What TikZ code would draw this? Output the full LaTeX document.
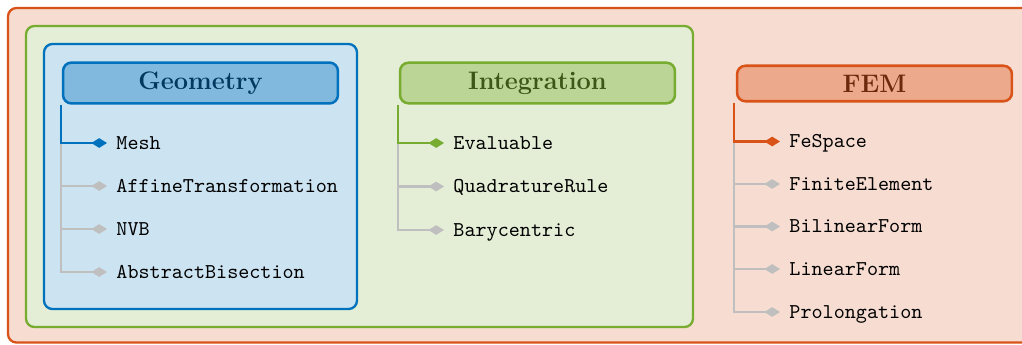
\documentclass[tikz,border=0pt]{standalone}
\usetikzlibrary{arrows.meta}
\definecolor{mblue}{RGB}{0,114,189}
\definecolor{mgreen}{RGB}{119,172,48}
\definecolor{morange}{RGB}{217,83,25}
\definecolor{lgray}{RGB}{191,191,191}
\tikzset{
  bigbox/.style={line width=1.1pt, rounded corners=4pt},
  titlebox/.style={draw, line width=1.2pt, rounded corners=4pt, minimum width=130.3pt,
    inner ysep=4.3pt, font=\fontsize{12}{14}\selectfont\bfseries},
  item/.style={anchor=west, inner xsep=4.3pt, inner ysep=0pt, text height=6.1pt,
    text depth=0pt, font=\fontsize{10}{12}\selectfont\ttfamily},
  link/.style={line width=1.1pt, -{Diamond[length=7.4pt,width=4.6pt]}},
  graylink/.style={link, lgray},
}
\begin{document}
\begin{tikzpicture}[x=0.474pt,y=-0.474pt]
\useasboundingbox (0,0) rectangle (1022,344);
% containers
\draw[bigbox, draw=morange, fill=morange!20] (8,8) rectangle (1045,342.5);
\draw[bigbox, draw=mgreen, fill=mgreen!20] (26,26) rectangle (693,327);
\draw[bigbox, draw=mblue, fill=mblue!20] (44,44) rectangle (357,309);
% titles
\node[titlebox, draw=mblue, fill=mblue!50, text=mblue!50!black] (geo) at (200.5,83) {Geometry};
\node[titlebox, draw=mgreen, fill=mgreen!50, text=mgreen!50!black] (integ) at (537.5,83) {Integration};
\node[titlebox, draw=morange, fill=morange!50, text=morange!50!black] (fem) at (874.5,83.5) {FEM};
\coordinate (gtop) at ([xshift=-0.4pt]geo.south west);
\coordinate (itop) at ([xshift=-0.4pt]integ.south west);
\coordinate (ftop) at ([xshift=-0.8pt]fem.south west);
% Geometry items
\node[item] (mesh) at (107,143) {Mesh};
\node[item] (affine) at (107,186) {AffineTransformation};
\node[item] (nvb) at (107,229) {NVB};
\node[item] (bisec) at (107,272) {AbstractBisection};
% Integration items
\node[item] (eval) at (444,143) {Evaluable};
\node[item] (quad) at (444,186.5) {QuadratureRule};
\node[item] (bary) at (444,230) {Barycentric};
% FEM items
\node[item] (fespace) at (780,141.5) {FeSpace};
\node[item] (finite) at (780,184) {FiniteElement};
\node[item] (bilin) at (780,226.5) {BilinearForm};
\node[item] (lin) at (780,269) {LinearForm};
\node[item] (prolong) at (780,312) {Prolongation};
% gray connectors
\draw[graylink] (gtop |- mesh.west) |- (affine.west);
\draw[graylink] (gtop |- mesh.west) |- (nvb.west);
\draw[graylink] (gtop |- mesh.west) |- (bisec.west);
\draw[graylink] (itop |- eval.west) |- (quad.west);
\draw[graylink] (itop |- eval.west) |- (bary.west);
\draw[graylink] (ftop |- fespace.west) |- (finite.west);
\draw[graylink] (ftop |- fespace.west) |- (bilin.west);
\draw[graylink] (ftop |- fespace.west) |- (lin.west);
\draw[graylink] (ftop |- fespace.west) |- (prolong.west);
% coloured connectors
\draw[link, mblue] (gtop) |- (mesh.west);
\draw[link, mgreen] (itop) |- (eval.west);
\draw[link, morange] (ftop) |- (fespace.west);
\end{tikzpicture}
\end{document}
